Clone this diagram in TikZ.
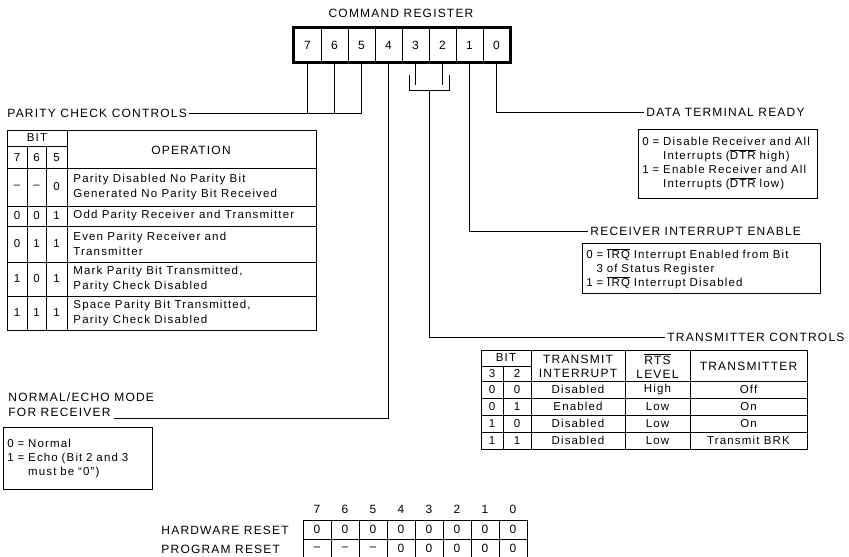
\documentclass[tikz,border=0pt]{standalone}
\usepackage{fontspec}
\setmainfont{Liberation Sans}[LetterSpace=10]
\newcommand\ovl[1]{$\overline{\hbox{#1}}$}
\begin{document}
\begin{tikzpicture}[x=1pt,y=-1pt,line width=0.9pt,
  lbl/.style={font=\fontsize{12}{14}\selectfont, inner sep=0pt},
  txt/.style={font=\fontsize{11.5}{14}\selectfont, inner sep=0pt},
  multi/.style={txt, align=left, font=\fontsize{11.5}{15}\selectfont},
  regcell/.style={draw, line width=0.9pt, minimum width=27pt, minimum height=34pt, inner sep=0pt, font=\fontsize{12}{14}\selectfont},
  infobox/.style={draw, line width=0.9pt, align=left, inner xsep=4pt, inner ysep=0pt, anchor=north west, font=\fontsize{11.5}{14}\selectfont},
  rcell/.style={draw, line width=0.9pt, minimum width=28pt, minimum height=19pt, inner sep=0pt, font=\fontsize{12}{14}\selectfont}]
\useasboundingbox (0,0) rectangle (849,557);
\clip (0,0) rectangle (849,557);

% ---------- command register ----------
\node[lbl] (title) at (401,13) {COMMAND REGISTER};
\foreach \b [count=\i from 0] in {7,6,5,4,3,2,1,0}
  \node[regcell] (r\b) at ({307.5+27*\i},45) {\b};
\draw[line width=3pt] (r7.north west) rectangle (r0.south east);

% ---------- labels ----------
\node[lbl, anchor=west, inner xsep=2pt] (parity) at (5,113) {PARITY CHECK CONTROLS};
\node[lbl, anchor=west, inner xsep=2pt] (dtr) at (644,112) {DATA TERMINAL READY};
\node[lbl, anchor=west, inner xsep=2pt] (rie) at (588,231) {RECEIVER INTERRUPT ENABLE};
\node[lbl, anchor=west, inner xsep=2pt] (tc) at (665,337) {TRANSMITTER CONTROLS};
\node[lbl, anchor=west] (echo1) at (8,397) {NORMAL/ECHO MODE};
\node[lbl, anchor=west] (echo2) at (8,412) {FOR RECEIVER};

% ---------- connectors ----------
\draw (r7.south) -- (r7.south |- parity.east);
\draw (r6.south) -- (r6.south |- parity.east);
\draw (r5.south) -- (r5.south |- parity.east) -- (parity.east);
\draw (r4.south) |- ([xshift=3pt,yshift=-2pt]echo2.south east);
\coordinate (brL) at (409,75);
\coordinate (brR) at (449,75);
\coordinate (brB) at (429,90);
\draw (r3.south) -- ++(0,23);
\draw (r2.south) -- ++(0,23);
\draw (brL) -- (brL |- brB) -- (brR |- brB) -- (brR);
\draw (brB) |- (tc.west);
\draw (r1.south) |- (rie.west);
\draw (r0.south) |- (dtr.west);

% ---------- info boxes ----------
\node[infobox, text width=171pt, minimum height=69pt] (dtrbox) at (638,129)
  {0 = Disable Receiver and All\\\hphantom{0 = }Interrupts (\ovl{DTR} high)\\1 = Enable Receiver and All\\\hphantom{0 = }Interrupts (\ovl{DTR} low)};
\node[infobox, text width=230pt, minimum height=50pt] (riebox) at (582,243)
  {0 = \ovl{IRQ} Interrupt Enabled from Bit\\\hphantom{0 }3 of Status Register\\1 = \ovl{IRQ} Interrupt Disabled};
\node[infobox, text width=141pt, minimum height=62pt] (echobox) at (3,427)
  {0 = Normal\\1 = Echo (Bit 2 and 3\\\hphantom{1 = }must be ``0'')};

% ---------- parity table ----------
\draw (7,130) rectangle (316,330);
\draw (27,146) -- (27,330) (46,146) -- (46,330) (67,130) -- (67,330);
\draw (7,146) -- (67,146);
\foreach \yy in {168,206,226,262,296} \draw (7,\yy) -- (316,\yy);
\node[txt] (pbit) at (37,138) {BIT};
\node[txt] (ph7) at (17,157.5) {7};
\node[txt] (ph6) at (36.5,157.5) {6};
\node[txt] (ph5) at (56.5,157.5) {5};
\node[lbl] (pop) at (191,150) {OPERATION};
\foreach \yy/\a/\b/\c [count=\k] in {187/–/–/0, 216/0/0/1, 244/0/1/1, 279/1/0/1, 313/1/1/1}{
  \node[txt] (pa\k) at (17,\yy) {\a};
  \node[txt] (pb\k) at (36.5,\yy) {\b};
  \node[txt] (pc\k) at (56.5,\yy) {\c};
}
\node[multi, anchor=west] (po1) at (73,187) {Parity Disabled No Parity Bit\\Generated No Parity Bit Received};
\node[multi, anchor=west] (po2) at (73,216) {Odd Parity Receiver and Transmitter};
\node[multi, anchor=west] (po3) at (73,244) {Even Parity Receiver and\\Transmitter};
\node[multi, anchor=west] (po4) at (73,279) {Mark Parity Bit Transmitted,\\Parity Check Disabled};
\node[multi, anchor=west] (po5) at (73,313) {Space Parity Bit Transmitted,\\Parity Check Disabled};

% ---------- transmitter table ----------
\draw (481,350) rectangle (807,449);
\draw (503,366) -- (503,449) (531,350) -- (531,449) (625,350) -- (625,449) (690,350) -- (690,449);
\draw (481,366) -- (531,366);
\foreach \yy in {381,398,415,432} \draw (481,\yy) -- (807,\yy);
\node[txt] (tbit) at (506,358) {BIT};
\node[txt] (th3) at (492,373.5) {3};
\node[txt] (th2) at (517,373.5) {2};
\node[lbl, align=center] (thti) at (578,366) {TRANSMIT\\INTERRUPT};
\node[lbl, align=center] (thrts) at (657.5,366) {\ovl{RTS}\\LEVEL};
\node[lbl] (thtx) at (748.5,366) {TRANSMITTER};
\foreach \yy/\a/\b/\c/\d/\e [count=\k] in {389.5/0/0/Disabled/High/Off, 406.5/0/1/Enabled/Low/On, 423.5/1/0/Disabled/Low/On, 440.5/1/1/Disabled/Low/Transmit BRK}{
  \node[txt] (ta\k) at (492,\yy) {\a};
  \node[txt] (tb\k) at (517,\yy) {\b};
  \node[txt] (tcc\k) at (578,\yy) {\c};
  \node[txt] (td\k) at (657.5,\yy) {\d};
  \node[txt] (te\k) at (748.5,\yy) {\e};
}

% ---------- reset table ----------
\node[lbl, anchor=west] (hwr) at (161,530) {HARDWARE RESET};
\node[lbl, anchor=west] (pgr) at (161,549) {PROGRAM RESET};
\foreach \b/\h/\p [count=\i from 0] in {7/0/–,6/0/–,5/0/–,4/0/0,3/0/0,2/0/0,1/0/0,0/0/0}{
  \node[lbl] (rh\b) at ({317+28*\i},509) {\b};
  \node[rcell] (hw\b) at ({317+28*\i},529.5) {\h};
  \node[rcell] (pg\b) at ({317+28*\i},548.5) {\p};
}
\end{tikzpicture}
\end{document}
